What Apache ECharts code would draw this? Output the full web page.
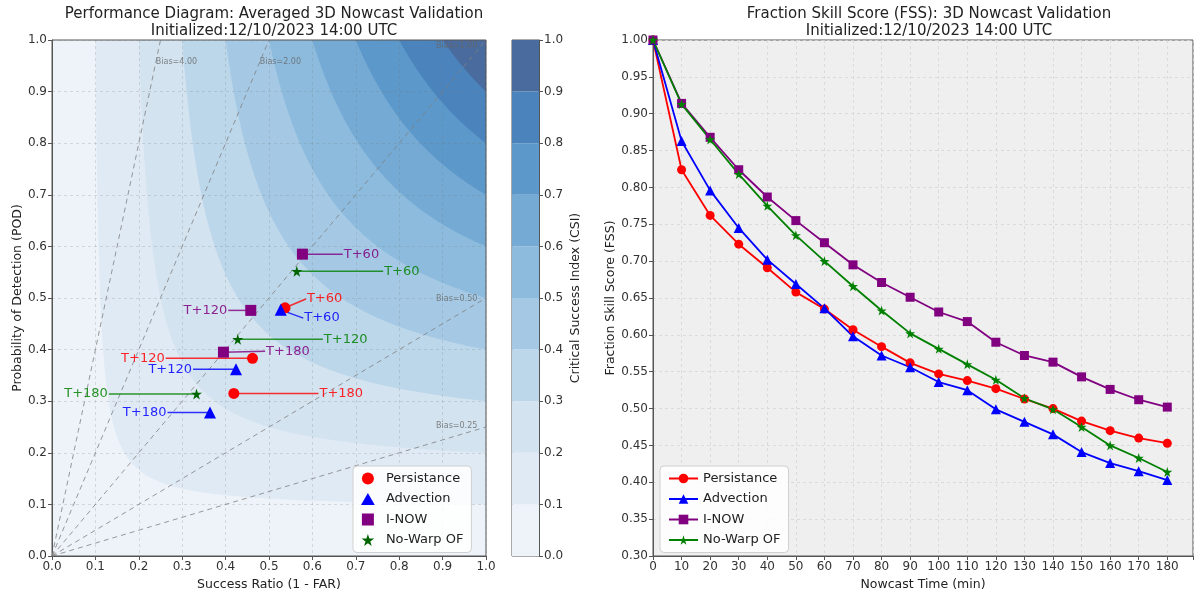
<!DOCTYPE html>
<html>
<head>
<meta charset="utf-8">
<title>Performance Diagram / FSS</title>
<script src="https://cdn.jsdelivr.net/npm/echarts@6/dist/echarts.min.js"></script>
<style>
  html, body { margin: 0; padding: 0; background: #fff; }
  #chart { width: 1196px; height: 598px; }
</style>
</head>
<body>
<div id="chart"></div>
<script>
// ---------------- data ----------------
const leadLabels = ['T+60', 'T+120', 'T+180'];

// performance diagram points (success ratio, POD) at T+60 / T+120 / T+180
const persSR  = [0.537, 0.462, 0.419];
const persPOD = [0.481, 0.383, 0.315];
const advSR   = [0.527, 0.424, 0.364];
const advPOD  = [0.477, 0.362, 0.278];
const inowSR  = [0.577, 0.458, 0.395];
const inowPOD = [0.585, 0.476, 0.395];
const nwSR    = [0.564, 0.428, 0.333];
const nwPOD   = [0.552, 0.420, 0.314];

// where the annotation text of each point sits (data coords)
const persTextSR  = [0.585, 0.262, 0.614];
const persTextPOD = [0.498, 0.383, 0.315];
const advTextSR   = [0.579, 0.325, 0.266];
const advTextPOD  = [0.461, 0.362, 0.278];
const inowTextSR  = [0.670, 0.406, 0.491];
const inowTextPOD = [0.585, 0.476, 0.397];
const nwTextSR    = [0.763, 0.624, 0.131];
const nwTextPOD   = [0.552, 0.420, 0.314];

const biasValues = [0.25, 0.5, 1, 2, 4];
const csiLevels  = [0, 0.1, 0.2, 0.3, 0.4, 0.5, 0.6, 0.7, 0.8, 0.9, 1.0];

// FSS vs nowcast time
const nowcastTimes = [0, 10, 20, 30, 40, 50, 60, 70, 80, 90, 100, 110, 120, 130, 140, 150, 160, 170, 180];
const fssPers = [1.0, 0.824, 0.762, 0.723, 0.691, 0.658, 0.635, 0.607, 0.584, 0.562, 0.547, 0.538, 0.527, 0.513, 0.500, 0.483, 0.470, 0.460, 0.453];
const fssAdv  = [1.0, 0.863, 0.796, 0.745, 0.702, 0.669, 0.636, 0.598, 0.572, 0.556, 0.536, 0.525, 0.499, 0.482, 0.465, 0.441, 0.426, 0.415, 0.403];
const fssInow = [1.0, 0.914, 0.868, 0.824, 0.787, 0.755, 0.725, 0.695, 0.671, 0.651, 0.631, 0.618, 0.590, 0.572, 0.563, 0.543, 0.526, 0.512, 0.502];
const fssNw   = [1.0, 0.913, 0.865, 0.818, 0.775, 0.735, 0.700, 0.666, 0.633, 0.602, 0.581, 0.560, 0.539, 0.514, 0.499, 0.475, 0.450, 0.433, 0.414];

// ---------------- styles ----------------
const FONT = '"DejaVu Sans", "Liberation Sans", sans-serif';
const csiColors = ['#eef3f9', '#e0eaf5', '#d3e3f0', '#bcd6ea', '#a5c9e4', '#8cbbdd',
                   '#74aad4', '#5c98ca', '#4b83bd', '#4a6b9e'];
// path symbols keep their aspect inside the legend
const STAR = 'path://M50,0 L61,35 L98,35 L68,57 L79,91 L50,70 L21,91 L32,57 L2,35 L39,35 Z';
const TRI = 'path://M50,0 L100,87 L0,87 Z';
const SQUARE = 'path://M0,0 L100,0 L100,100 L0,100 Z';
const RED = '#ff0000', BLUE = '#0000ff', PURPLE = '#800080', GREEN = '#008000', DKGREEN = '#006400';

const chart = echarts.init(document.getElementById('chart'));

// filled CSI region (CSI >= lo), drawn lowest level first
const renderCsiBand = (params, api) => {
    const lo = api.value(0);
    let pts = [];
    if (lo <= 0) {
        pts = [api.coord([0, 0]), api.coord([1, 0]), api.coord([1, 1]), api.coord([0, 1])];
    } else {
        // 1/sr + 1/pod = 1/lo + 1, sampled uniformly in 1/sr
        const c = 1 / lo + 1;
        const n = 120;
        for (let k = 0; k <= n; k++) {
            const u = 1 / lo + (1 - 1 / lo) * k / n;
            pts.push(api.coord([1 / u, 1 / (c - u)]));
        }
        pts.push(api.coord([1, 1]));
    }
    return { type: 'polygon', shape: { points: pts }, style: { fill: csiColors[params.dataIndex] } };
};

const renderColorbar = (params, api) => {
    const a = api.coord([0, api.value(1)]);
    const b = api.coord([1, api.value(0)]);
    return { type: 'rect', shape: { x: a[0], y: a[1], width: b[0] - a[0], height: b[1] - a[1] },
             style: { fill: csiColors[params.dataIndex] } };
};

const renderBiasText = (params, api) => {
    const b = api.value(0);
    const steep = b > 1;
    const p = steep ? api.coord([0.957 / b, 0.957]) : api.coord([0.98, 0.98 * b]);
    return { type: 'text', x: p[0], y: p[1],
             style: { text: 'Bias=' + b.toFixed(2), fill: '#666', opacity: 0.8,
                      font: '8px ' + FONT, align: steep ? 'left' : 'right',
                      verticalAlign: steep ? 'middle' : 'bottom' } };
};

// connector line + "T+xx" text for each point of a model
const annotation = (srs, pods, tsr, tpod, color) => ({
    type: 'custom', xAxisIndex: 0, yAxisIndex: 0, z: 3, silent: true,
    data: srs.map((s, i) => [s, pods[i], tsr[i], tpod[i], i]),
    renderItem: (params, api) => {
        const p = api.coord([api.value(0), api.value(1)]);
        const t = api.coord([api.value(2), api.value(3)]);
        const toRight = t[0] > p[0];
        return { type: 'group', children: [
            { type: 'line', shape: { x1: p[0], y1: p[1], x2: t[0], y2: t[1] },
              style: { stroke: color, lineWidth: 1.5, opacity: 0.8 } },
            { type: 'text', x: t[0] + (toRight ? 1 : -1), y: t[1],
              style: { text: leadLabels[api.value(4)], fill: color, opacity: 0.85,
                       font: '13px ' + FONT, align: toRight ? 'left' : 'right', verticalAlign: 'middle' } }
        ] };
    }
});

const points = (name, srs, pods, symbol, size, color) => ({
    name, type: 'scatter', xAxisIndex: 0, yAxisIndex: 0, z: 4,
    symbol, symbolSize: size, itemStyle: { color, opacity: 1 },
    data: srs.map((s, i) => [s, pods[i]])
});

const fssLine = (name, values, symbol, size, color, markColor) => ({
    name, type: 'line', xAxisIndex: 2, yAxisIndex: 2,
    symbol, symbolSize: size, showAllSymbol: true,
    lineStyle: { color, width: 1.8 },
    itemStyle: { color: markColor || color },
    data: nowcastTimes.map((t, i) => [t, values[i]])
});

const axisCommon = {
    axisLine: { show: true, onZero: false, lineStyle: { color: '#555' } },
    axisTick: { show: true, length: 4, lineStyle: { color: '#555' } },
    axisLabel: { color: '#333', fontSize: 12, fontFamily: FONT, margin: 5 },
    nameTextStyle: { color: '#222', fontSize: 12.5, fontFamily: FONT },
    nameLocation: 'middle'
};
const splitDashed = (color) => ({ show: true, lineStyle: { color, type: [3, 3], width: 0.8 } });
const legendCommon = {
    orient: 'vertical', top: 466, itemHeight: 12, itemGap: 7.5, padding: [6, 8],
    selectedMode: false, backgroundColor: 'rgba(255,255,255,0.85)', borderColor: '#d0d0d0',
    borderWidth: 1, borderRadius: 4, textStyle: { fontSize: 13, color: '#222', fontFamily: FONT }
};

const option = {
    animation: false,
    textStyle: { fontFamily: FONT },
    title: [
        { text: 'Performance Diagram: Averaged 3D Nowcast Validation\nInitialized:12/10/2023 14:00 UTC',
          left: 269, top: 1, textAlign: 'center',
          textStyle: { fontSize: 15, fontWeight: 'normal', color: '#222', lineHeight: 17, fontFamily: FONT } },
        { text: 'Fraction Skill Score (FSS): 3D Nowcast Validation\nInitialized:12/10/2023 14:00 UTC',
          left: 924, top: 1, textAlign: 'center',
          textStyle: { fontSize: 15, fontWeight: 'normal', color: '#222', lineHeight: 17, fontFamily: FONT } }
    ],
    grid: [
        { left: 52, top: 40, width: 434, height: 516, show: true, borderColor: '#555', borderWidth: 1, backgroundColor: 'transparent' },
        { left: 512, top: 40, width: 27, height: 516, show: true, borderColor: '#555', borderWidth: 1 },
        { left: 653, top: 40, width: 542, height: 516, show: true, borderColor: '#555', borderWidth: 1, backgroundColor: '#efefef' }
    ],
    xAxis: [
        Object.assign({}, axisCommon, { gridIndex: 0, type: 'value', min: 0, max: 1, interval: 0.1,
            name: 'Success Ratio (1 - FAR)', nameGap: 17,
            axisLabel: Object.assign({}, axisCommon.axisLabel, { formatter: v => v.toFixed(1) }),
            splitLine: splitDashed('rgba(120,120,120,0.28)') }),
        { gridIndex: 1, type: 'value', min: 0, max: 1, show: false },
        Object.assign({}, axisCommon, { gridIndex: 2, type: 'value', min: 0, max: 189, interval: 10,
            name: 'Nowcast Time (min)', nameGap: 17,
            axisLabel: Object.assign({}, axisCommon.axisLabel, { formatter: v => (v % 10 === 0 ? String(v) : '') }),
            splitLine: splitDashed('#d6d6d6') })
    ],
    yAxis: [
        Object.assign({}, axisCommon, { gridIndex: 0, type: 'value', min: 0, max: 1, interval: 0.1,
            name: 'Probability of Detection (POD)', nameGap: 27,
            axisLabel: Object.assign({}, axisCommon.axisLabel, { formatter: v => v.toFixed(1) }),
            splitLine: splitDashed('rgba(120,120,120,0.28)') }),
        Object.assign({}, axisCommon, { gridIndex: 1, type: 'value', min: 0, max: 1, interval: 0.1, position: 'right',
            name: 'Critical Success Index (CSI)', nameGap: 30, nameRotate: 90,
            axisLabel: Object.assign({}, axisCommon.axisLabel, { formatter: v => v.toFixed(1) }),
            splitLine: { show: false } }),
        Object.assign({}, axisCommon, { gridIndex: 2, type: 'value', min: 0.3, max: 1.0, interval: 0.05,
            name: 'Fraction Skill Score (FSS)', nameGap: 35,
            axisLabel: Object.assign({}, axisCommon.axisLabel, { formatter: v => v.toFixed(2) }),
            splitLine: splitDashed('#d6d6d6') })
    ],
    legend: [
        Object.assign({}, legendCommon, { data: ['Persistance', 'Advection', 'I-NOW', 'No-Warp OF'],
          left: 353, itemWidth: 26 }),
        Object.assign({}, legendCommon, { data: ['FSS Persistance', 'FSS Advection', 'FSS I-NOW', 'FSS No-Warp OF'],
          left: 660, itemWidth: 29, formatter: n => n.replace('FSS ', '') })
    ],
    series: [
        { type: 'custom', xAxisIndex: 0, yAxisIndex: 0, z: -1, silent: true,
          data: csiLevels.slice(0, -1).map(v => [v]), renderItem: renderCsiBand },
        { type: 'custom', xAxisIndex: 1, yAxisIndex: 1, silent: true,
          data: csiLevels.slice(0, -1).map((v, i) => [v, csiLevels[i + 1]]), renderItem: renderColorbar },
        ...biasValues.map(b => ({
            type: 'line', xAxisIndex: 0, yAxisIndex: 0, z: 1, silent: true, symbol: 'none',
            lineStyle: { color: '#808080', width: 1, type: [5, 4], opacity: 0.8 },
            data: [[0, 0], b >= 1 ? [1 / b, 1] : [1, b]]
        })),
        { type: 'custom', xAxisIndex: 0, yAxisIndex: 0, z: 1, silent: true,
          data: biasValues.map(b => [b]), renderItem: renderBiasText },
        annotation(persSR, persPOD, persTextSR, persTextPOD, RED),
        annotation(advSR, advPOD, advTextSR, advTextPOD, BLUE),
        annotation(inowSR, inowPOD, inowTextSR, inowTextPOD, PURPLE),
        annotation(nwSR, nwPOD, nwTextSR, nwTextPOD, GREEN),
        points('Persistance', persSR, persPOD, 'circle', 11, RED),
        points('Advection', advSR, advPOD, TRI, 12, BLUE),
        points('I-NOW', inowSR, inowPOD, SQUARE, 11, PURPLE),
        points('No-Warp OF', nwSR, nwPOD, STAR, 11, DKGREEN),
        fssLine('FSS Persistance', fssPers, 'circle', 9, RED),
        fssLine('FSS Advection', fssAdv, TRI, 10, BLUE),
        fssLine('FSS I-NOW', fssInow, SQUARE, 9, PURPLE),
        fssLine('FSS No-Warp OF', fssNw, STAR, 10, GREEN)
    ]
};

chart.setOption(option);
</script>
</body>
</html>
